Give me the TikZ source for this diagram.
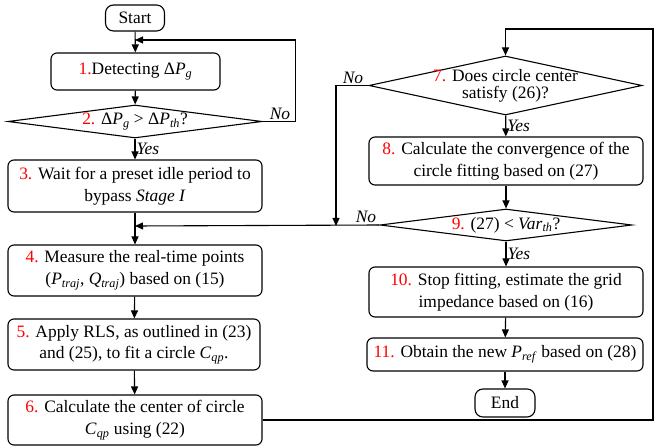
\documentclass[tikz,border=0pt]{standalone}
\usepackage{fontspec}
\setmainfont{Liberation Serif}
\usepackage{tikz}
\usetikzlibrary{shapes.geometric}
\usetikzlibrary{arrows.meta}

\newcommand{\rednum}[1]{\textcolor{red}{#1}}
\newcommand{\var}[2]{\textit{#1}\textsubscript{\textit{#2}}}

\tikzset{
  box/.style={draw, rounded corners=6bp, align=center, inner sep=0pt, line width=1.1bp},
  dia/.style={draw, diamond, inner sep=0pt, line width=1.1bp},
  flow/.style={line width=1.1bp, -{Triangle[length=8bp,width=7bp]}},
  lbl/.style={font=\fontsize{17.5}{21}\selectfont\itshape}
}

\begin{document}
\begin{tikzpicture}[x=1bp, y=-1bp, font=\fontsize{17.5}{22}\selectfont]
\useasboundingbox (0,0) rectangle (654,447);
\node[box, rounded corners=8bp, minimum width=59bp, minimum height=26bp] (start) at (135,18) {Start};
\node[box, minimum width=169bp, minimum height=37bp] (b1) at (135.5,71.5) {\rednum{1.}Detecting Δ\var{P}{g}};
\node[dia, minimum width=254bp, minimum height=33bp,
  label={center:\rednum{2.} Δ\var{P}{g} > Δ\var{P}{th}?}] (d2) at (135,121.5) {};
\node[box, minimum width=254bp, minimum height=52bp] (b3) at (135,186) {\rednum{3.} Wait for a preset idle period to\\ bypass \textit{Stage I}};
\node[box, minimum width=254bp, minimum height=51bp] (b4) at (135,270.5) {\rednum{4.} Measure the real-time points\\ (\var{P}{traj}, \var{Q}{traj}) based on (15)};
\node[box, minimum width=252bp, minimum height=51bp] (b5) at (134,344.5) {\rednum{5.} Apply RLS, as outlined in (23)\\ and (25), to fit a circle \var{C}{qp}.};
\node[box, minimum width=254bp, minimum height=50bp] (b6) at (135,420) {\rednum{6.} Calculate the center of circle\\ \var{C}{qp} using (22)};

\node[dia, minimum width=273bp, minimum height=59bp,
  label={[align=center, font=\fontsize{17.5}{17}\selectfont]center:\rednum{7.} Does circle center\\ satisfy (26)?}] (d7) at (505.5,85.5) {};
\node[box, minimum width=274bp, minimum height=48bp] (b8) at (506,161) {\rednum{8.} Calculate the convergence of the\\ circle fitting based on (27)};
\node[dia, minimum width=252bp, minimum height=32bp,
  label={center:\rednum{9.} (27) < \var{Var}{th}?}] (d9) at (506,225) {};
\node[box, minimum width=274bp, minimum height=50bp] (b10) at (506,292) {\rednum{10.} Stop fitting, estimate the grid\\ impedance based on (16)};
\node[box, minimum width=276bp, minimum height=33bp] (b11) at (505,354.5) {\rednum{11.} Obtain the new \var{P}{ref} based on (28)};
\node[box, rounded corners=8bp, minimum width=60bp, minimum height=28bp] (end) at (505,403) {End};

\coordinate (j1) at (135,40);
\coordinate (j2) at (135,226);
\coordinate (j3) at (336,226);

\draw[flow] (start) -- (b1);
\draw[flow] (b1) -- (d2);
\draw[flow] (d2.east) -- ++(33,0) |- (j1);
\draw[flow] (d2) -- (b3) node[lbl, midway, right, inner sep=1bp] {Yes};
\draw[flow] (b3) -- (b4);
\draw[flow] (d9.west) -- (j2);
\draw[flow] (d7.west) -| (j3);
\draw[flow] (b4) -- (b5);
\draw[flow] (b5) -- (b6);
\draw[flow] (b6.east) -| (653,29) -| (d7.north);
\draw[flow] (d7) -- (b8) node[lbl, midway, right, inner sep=1bp] {Yes};
\draw[flow] (b8) -- (d9);
\draw[flow] (d9) -- (b10) node[lbl, midway, right, inner sep=1bp] {Yes};
\draw[flow] (b10) -- (b11);
\draw[flow] (b11) -- (end);

\node[lbl] (no2) at (280,114) {No};
\node[lbl] (no7) at (353,78) {No};
\node[lbl] (no9) at (366,217) {No};
\end{tikzpicture}
\end{document}
